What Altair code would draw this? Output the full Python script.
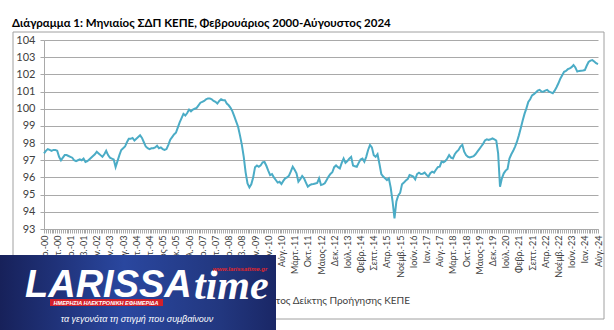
import json
import altair as alt
import pandas as pd

# ---------------- data ----------------
title_text = "Διάγραμμα 1: Μηνιαίος ΣΔΠ ΚΕΠΕ, Φεβρουάριος 2000-Αύγουστος 2024"
series_name = "Σύνθετος Δείκτης Προήγησης ΚΕΠΕ"

# monthly values, Feb 2000 .. Aug 2024
v2000 = [97.4, 97.55, 97.65, 97.6, 97.55, 97.6, 97.6, 97.55, 97.2, 97.0, 97.15]
v2001 = [97.3, 97.3, 97.25, 97.2, 97.15, 97.0, 96.95, 97.0, 97.05, 97.0, 97.1, 96.9]
v2002 = [96.95, 97.05, 97.15, 97.25, 97.35, 97.5, 97.4, 97.3, 97.2, 97.35, 97.55, 97.3]
v2003 = [97.15, 97.1, 97.05, 96.6, 96.95, 97.3, 97.6, 97.7, 97.8, 98.05, 98.25, 98.25]
v2004 = [98.3, 98.15, 98.25, 98.35, 98.45, 98.3, 98.05, 97.8, 97.7, 97.65, 97.7, 97.7]
v2005 = [97.75, 97.85, 97.7, 97.75, 97.65, 97.6, 97.65, 97.9, 98.2, 98.35, 98.5, 98.6]
v2006 = [98.9, 99.2, 99.45, 99.7, 99.6, 99.75, 99.95, 99.85, 99.95, 100.0, 100.05, 100.2]
v2007 = [100.35, 100.4, 100.45, 100.55, 100.6, 100.6, 100.55, 100.45, 100.4, 100.3, 100.45, 100.55]
v2008 = [100.5, 100.5, 100.3, 100.2, 100.05, 99.85, 99.55, 99.25, 98.95, 98.45, 97.9, 97.2]
v2009 = [96.3, 95.65, 95.42, 95.6, 96.0, 96.6, 96.7, 96.62, 96.7, 96.88, 96.9, 96.68]
v2010 = [96.4, 96.14, 96.2, 96.0, 95.85, 95.7, 95.75, 95.62, 95.8, 95.95, 96.0, 96.1]
v2011 = [96.35, 96.63, 96.45, 96.24, 95.75, 95.9, 96.08, 95.95, 95.7, 95.46, 95.55, 95.6]
v2012 = [95.62, 95.65, 95.68, 95.95, 95.56, 95.6, 95.66, 95.85, 96.05, 96.2, 96.3, 96.6]
v2013 = [96.7, 96.6, 96.53, 96.85, 97.1, 96.85, 96.95, 97.1, 97.2, 96.7, 96.65, 96.62]
v2014 = [96.85, 97.05, 97.1, 96.92, 97.2, 97.6, 97.89, 97.75, 97.3, 97.2, 97.35, 96.8]
v2015 = [96.2, 96.05, 95.95, 95.85, 95.95, 95.4, 94.6, 93.62, 94.6, 94.95, 95.1, 95.6]
v2016 = [95.7, 95.82, 95.9, 96.14, 96.1, 96.05, 95.89, 96.2, 96.28, 96.2, 96.22, 96.28]
v2017 = [96.15, 96.05, 96.25, 96.34, 96.28, 96.45, 96.6, 96.63, 96.92, 96.88, 96.95, 97.1]
v2018 = [97.3, 97.15, 97.11, 97.35, 97.5, 97.6, 97.8, 97.9, 97.5, 97.3, 97.2, 97.17]
v2019 = [97.2, 97.24, 97.35, 97.5, 97.65, 97.8, 97.95, 98.15, 98.22, 98.18, 98.22, 98.28]
v2020 = [98.22, 98.15, 97.4, 95.46, 95.95, 96.24, 96.4, 96.5, 97.1, 97.35, 97.55, 97.8]
v2021 = [98.08, 98.45, 98.86, 99.3, 99.7, 100.02, 100.4, 100.55, 100.78, 100.85, 100.95, 101.05]
v2022 = [101.1, 101.0, 100.99, 101.05, 101.1, 101.0, 100.95, 100.9, 101.05, 101.25, 101.48, 101.75]
v2023 = [101.95, 102.15, 102.2, 102.3, 102.35, 102.42, 102.54, 102.4, 102.16, 102.2, 102.21, 102.22]
v2024 = [102.25, 102.5, 102.72, 102.8, 102.83, 102.75, 102.65, 102.6]

values = (v2000 + v2001 + v2002 + v2003 + v2004 + v2005 + v2006 + v2007 + v2008
          + v2009 + v2010 + v2011 + v2012 + v2013 + v2014 + v2015 + v2016 + v2017
          + v2018 + v2019 + v2020 + v2021 + v2022 + v2023 + v2024)
months = list(range(len(values)))

# tick labels, every 7 months starting Feb 2000
tick_labels = [
    "Φεβρ.-00", "Σεπτ.-00", "Απρ.-01", "Νοέμβ.-01", "Ιούν.-02", "Ιαν.-03", "Αύγ.-03",
    "Μάρτ.-04", "Οκτ.-04", "Μάιος-05", "Δεκ.-05", "Ιούλ.-06", "Φεβρ.-07", "Σεπτ.-07",
    "Απρ.-08", "Νοέμβ.-08", "Ιούν.-09", "Ιαν.-10", "Αύγ.-10", "Μάρτ.-11", "Οκτ.-11",
    "Μάιος-12", "Δεκ.-12", "Ιούλ.-13", "Φεβρ.-14", "Σεπτ.-14", "Απρ.-15", "Νοέμβ.-15",
    "Ιούν.-16", "Ιαν.-17", "Αύγ.-17", "Μάρτ.-18", "Οκτ.-18", "Μάιος-19", "Δεκ.-19",
    "Ιούλ.-20", "Φεβρ.-21", "Σεπτ.-21", "Απρ.-22", "Νοέμβ.-22", "Ιούν.-23", "Ιαν.-24",
    "Αύγ.-24",
]
y_ticks = list(range(93, 105))

# logo texts
logo_main = "LARISSA"
logo_time = "time"
logo_url = "www.larissatime.gr"
logo_banner = "ΗΜΕΡΗΣΙΑ ΗΛΕΚΤΡΟΝΙΚΗ ΕΦΗΜΕΡΙΔΑ"
logo_slogan = "τα γεγονότα τη στιγμή που συμβαίνουν"

# ---------------- chart ----------------
df = pd.DataFrame({"m": months, "v": values})
one = pd.DataFrame({"k": [0]})

GRID = "#a9a9a9"
FONT = "Lato"
label_expr = "datum.value % 7 == 0 ? " + json.dumps(tick_labels, ensure_ascii=False) + "[datum.value / 7] : ''"

line = alt.Chart(df).mark_line(color="#4bacc6", strokeWidth=2).encode(
    x=alt.X("m:Q", title=None,
            scale=alt.Scale(domain=[0, len(values) - 1], nice=False, zero=False),
            axis=alt.Axis(values=months, labelExpr=label_expr, labelAngle=270,
                          labelOverlap=False, labelFlush=False, labelBound=False,
                          grid=False, tickSize=4, tickColor=GRID, domainColor=GRID,
                          labelFontSize=9, labelFont=FONT, labelColor="#404040",
                          labelPadding=2)),
    y=alt.Y("v:Q", title=None,
            scale=alt.Scale(domain=[93, 104], nice=False, zero=False),
            axis=alt.Axis(values=y_ticks, grid=True, gridColor=GRID, tickSize=4,
                          tickColor=GRID, domainColor=GRID, labelFontSize=11,
                          labelFont=FONT, labelColor="#404040", labelPadding=5)),
)

frame = alt.Chart(one).mark_rect(fill=None, stroke="#a0a0a0", strokeWidth=1).encode(
    x=alt.value(-31), x2=alt.value(560), y=alt.value(-8), y2=alt.value(279))

title = alt.Chart(one).mark_text(text=title_text, align="left", baseline="alphabetic",
                                 font=FONT, fontWeight="bold", fontSize=11.5,
                                 color="#000000").encode(
    x=alt.value(-32), y=alt.value(-13.5))

legend_rule = alt.Chart(one).mark_rule(color="#4bacc6", strokeWidth=2).encode(
    x=alt.value(172), x2=alt.value(200), y=alt.value(261))
legend_text = alt.Chart(one).mark_text(text=series_name, align="right", baseline="middle",
                                       font=FONT, fontSize=10, color="#404040").encode(
    x=alt.value(366), y=alt.value(261))

grad = alt.Gradient(gradient="linear", x1=0, x2=1, y1=0, y2=0,
                    stops=[alt.GradientStop(color="#17215a", offset=0),
                           alt.GradientStop(color="#2a479f", offset=0.45),
                           alt.GradientStop(color="#22377f", offset=0.8),
                           alt.GradientStop(color="#1a2766", offset=1)])
logo_bg = alt.Chart(one).mark_rect(color=grad).encode(
    x=alt.value(-44), x2=alt.value(232), y=alt.value(215), y2=alt.value(290))

logo_l = alt.Chart(one).mark_text(text=logo_main, align="left", baseline="alphabetic",
                                  font="Liberation Sans", fontWeight="bold", fontStyle="italic",
                                  fontSize=38, color="#ffffff").encode(
    x=alt.value(-19), y=alt.value(257))
logo_t = alt.Chart(one).mark_text(text=logo_time, align="left", baseline="alphabetic",
                                  font="Liberation Serif", fontWeight="bold", fontStyle="italic",
                                  fontSize=42, color="#ffffff").encode(
    x=alt.value(150), y=alt.value(259))
logo_u = alt.Chart(one).mark_text(text=logo_url, align="center", baseline="middle",
                                  font="Liberation Sans", fontWeight="bold", fontStyle="italic",
                                  fontSize=6, color="#e0262b").encode(
    x=alt.value(196), y=alt.value(229))
logo_band = alt.Chart(one).mark_rect(color="#d3202a").encode(
    x=alt.value(6), x2=alt.value(119), y=alt.value(259), y2=alt.value(266))
logo_bt = alt.Chart(one).mark_text(text=logo_banner, align="center", baseline="middle",
                                   font="Liberation Sans", fontWeight="bold", fontStyle="italic",
                                   fontSize=5.5, color="#ffffff").encode(
    x=alt.value(62), y=alt.value(262.5))
logo_s = alt.Chart(one).mark_text(text=logo_slogan, align="center", baseline="middle",
                                  font="Liberation Sans", fontStyle="italic",
                                  fontSize=9, color="#ffffff").encode(
    x=alt.value(93), y=alt.value(279))

chart = alt.layer(
    frame, title, legend_rule, legend_text, line,
    logo_bg, logo_l, logo_t, logo_u, logo_band, logo_bt, logo_s,
).properties(
    width=554, height=189,
    autosize=alt.AutoSizeParams(type="none"),
    padding={"left": 44, "top": 40, "right": 16, "bottom": 101},
    background="#ffffff",
).configure_view(stroke=None)

chart.save("out.html", embed_options={"renderer": "svg", "actions": False})
